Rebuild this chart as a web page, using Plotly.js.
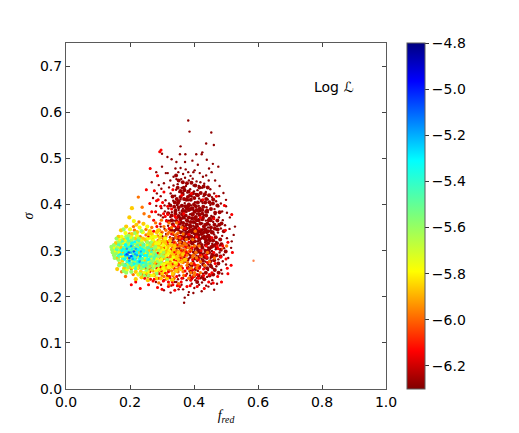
<!DOCTYPE html>
<html><head><meta charset="utf-8">
<script src="https://cdn.plot.ly/plotly-3.0.1.min.js"></script>
<style>html,body{margin:0;padding:0;background:#fff}</style></head>
<body><div id="chart" style="width:519px;height:433px"></div>
<script>
// Values: alternating fred, sigma pairs in thousandths.
const darkRed=[382,582,386,558,454,556,438,532,462,529,358,526,317,503,356,509,373,509,407,509,426,513,424,509,
330,498,372,492,395,495,412,486,440,497,459,488,476,482,455,470,342,478,351,470,358,479,366,466,374,476,382,470,389,462,402,474,418,468,428,460,438,463,447,478,300,482,282,470,318,468,336,460,345,455,360,455,372,458,384,452,396,456,408,450,420,448,432,445,446,452,466,452,480,440,268,448,290,442,306,446,322,437,
336,441,349,444,361,436,375,440,388,433,399,441,411,431,425,436,437,427,451,433,463,424,478,418,492,425,327,424,341,419,354,427,367,421,379,426,393,417,404,423,416,413,430,418,443,411,456,416,469,407,484,402,500,410,
296,418,311,409,322,402,335,408,347,399,358,411,371,403,382,409,391,398,403,405,415,397,427,403,439,394,451,399,464,390,476,396,488,385,503,382,282,397,298,392,309,385,320,391,331,383,343,389,355,382,366,391,377,384,388,379,398,388,409,380,420,386,431,377,443,383,454,375,466,379,478,372,490,366,
289,378,303,372,314,366,326,373,337,365,349,371,360,362,371,370,382,363,393,369,404,360,415,368,426,359,437,365,449,356,460,362,472,353,484,348,497,355,511,347,528,352,
296,352,308,347,319,354,330,346,341,352,352,344,363,351,374,343,385,349,396,341,407,348,418,340,429,346,440,338,452,344,463,335,475,339,488,332,503,327,518,320,
301,331,313,336,325,329,336,334,347,326,358,332,369,324,380,330,391,322,402,328,413,320,424,326,435,318,446,324,457,315,469,319,481,311,494,305,
318,312,331,318,343,311,355,316,367,309,378,314,389,306,400,312,411,304,422,310,433,302,444,307,456,299,468,303,480,296,493,291,507,284,
350,298,362,292,374,299,386,291,397,297,408,289,419,295,430,287,441,292,452,284,464,288,476,281,490,277,
372,276,385,270,397,277,409,268,421,274,433,265,445,270,458,262,470,266,485,258,
281,232,297,226,313,238,329,224,345,232,361,226,377,236,393,228,409,240,425,231,441,243,457,236,472,228,
306,214,327,209,352,216,371,198,369,187,384,210,401,219,424,212,445,222,463,215,
300,510,345,492,398,470,415,440,372,432,344,432,400,428,364,398,352,388,416,376,444,350,392,338,432,332,372,322,410,320,470,345,
342,372,356,372,375,354,398,354,412,352,426,346,340,344,348,336,364,340,380,340,402,336,416,334,352,320,364,314,392,318,402,302,
376,306,388,318,420,318,356,304,344,304,412,296,432,294,386,284,398,282,410,278,424,282,436,276,452,270,378,250,394,252,412,256,428,250,444,258,
322,258,338,250,354,246,366,240,388,246,404,236,420,240,300,246,316,246,336,238,350,238,
312,468,326,452,298,434,284,424,272,414,308,398,296,376,500,396,512,372,524,334,516,306,500,270,488,250,
348,224,366,216,382,204,398,208,416,226,438,224,454,228,340,232,326,240];
const darkRedMass=[344,463,352,452,365,448,378,446,392,447,404,441,417,437,430,439,443,437,349,436,358,429,370,431,383,428,396,424,409,421,421,425,434,422,447,420,460,411,
333,417,346,412,358,416,369,412,381,416,390,410,401,414,412,404,424,408,435,404,448,405,459,402,473,398,
326,398,338,395,350,403,362,397,373,396,384,400,395,392,406,396,418,391,429,395,441,387,453,390,466,382,480,383,
319,381,330,376,342,380,352,375,363,379,374,376,384,372,395,379,406,373,417,378,428,371,438,376,449,369,460,372,473,365,486,359,
321,363,334,357,345,364,356,358,366,360,377,357,387,355,398,362,409,356,420,359,431,352,442,358,453,350,465,348,479,356,493,342,
327,345,336,342,346,347,358,340,369,345,379,338,390,344,400,338,411,343,423,336,434,341,445,333,456,339,468,329,482,324,
334,325,344,329,355,324,364,330,375,327,385,332,396,326,406,331,417,324,428,329,438,322,449,328,460,322,472,316,486,314,
340,315,351,308,361,318,372,315,383,310,394,316,404,308,415,314,426,306,437,312,448,304,459,310,471,307,484,302,499,298,
355,296,366,300,379,295,391,302,402,295,413,301,424,292,436,299,447,296,458,292,470,290,483,287,
368,284,380,280,392,287,404,283,416,286,428,278,440,284,451,277,463,279,476,272,
381,263,393,268,405,260,417,265,429,270,441,262,453,266,465,258,477,252,
389,255,400,245,414,246,426,243,437,252,449,246,460,248,392,240,410,232,432,238,
352,407,364,424,376,410,388,420,400,400,412,420,426,388,438,412,368,436,382,396,394,370,408,388,
340,404,330,366,352,360,366,372,378,366,390,362,402,370,414,366,426,368,436,346,446,366,356,330,368,330,382,326,392,330,
352,350,366,352,376,348,390,352,404,350,416,342,428,338,440,330,358,368,372,386,384,388,396,378,408,366,
342,386,352,394,364,386,378,392,390,390,402,384,414,386,426,380,438,384,452,366,464,356,474,346,
402,320,414,328,424,312,434,326,444,316,454,308,466,312,408,306,420,298,432,286,444,300,456,288,
458,340,450,322,436,356,444,342,422,344,410,336,398,346,386,342,372,336];
const red=[297,518,293,514,263,478,286,462,251,432,276,430,262,402,283,408,
306,427,334,432,362,420,392,424,428,410,470,418,495,398,518,378,305,380,340,375,368,380,420,372,462,369,498,344,
274,366,294,358,322,348,350,352,384,335,416,348,456,328,506,318,298,338,318,318,338,318,362,326,384,318,408,330,438,310,472,310,
292,320,308,306,328,302,344,290,358,284,372,290,388,298,404,268,422,300,440,286,462,296,484,286,520,296,
270,300,288,294,302,282,316,286,326,276,338,280,352,270,364,262,380,262,396,258,416,262,436,290,456,252,474,244,504,262,
248,262,262,254,276,246,290,240,304,234,318,244,332,232,346,244,360,232,374,246,390,236,410,248,430,260,446,232,
204,226,218,232,232,218,246,240,258,226,272,234,286,220,300,216,320,232,340,214,356,222,388,224,410,222,432,218,486,232,506,250,
258,330,274,342,284,352,268,384,314,364,330,336,352,330,374,308,394,306,414,280,338,296,360,300,396,280,350,268,372,256,338,262,
282,272,296,264,312,268,310,252,324,244,298,256,284,262,268,262,250,248,264,238,
280,384,296,396,310,374,288,410,302,404,318,396,330,390,344,372,318,378,336,354,352,362,372,348,348,312,376,296,358,278,344,278,
332,270,320,254,306,236,292,250,276,238,262,246,320,222,334,226,348,224,362,240,378,222,396,242,414,240,430,246,448,248,460,230,
400,272,420,290,442,274,466,272,500,282,516,268,476,304,490,310];
const orange=[226,416,244,380,238,394,260,374,280,360,298,366,322,360,346,360,
211,352,228,362,250,346,268,350,292,344,312,344,334,338,362,350,404,342,
198,336,214,344,232,330,250,334,270,326,286,332,304,326,324,322,344,328,364,310,396,324,
206,318,224,322,242,314,260,316,278,310,296,316,314,300,332,308,350,310,368,296,390,300,416,310,
186,244,204,302,220,298,238,304,254,296,272,302,290,300,306,292,324,296,340,302,356,290,376,282,398,290,422,288,
218,284,236,278,252,284,268,276,284,284,300,274,318,282,334,284,348,276,366,274,384,260,410,262,442,296,
226,262,240,268,258,260,274,270,288,252,306,260,322,262,336,272,350,254,366,254,392,262,502,310,
240,248,256,244,272,256,290,230,306,244,322,226,338,240,352,228,204,260,188,270,174,254,210,248,
282,316,316,312,300,340,330,350,340,318,356,318,376,324,382,306,362,286,344,268,330,256,314,250,400,246,
322,340,336,312,312,330,350,338,366,336,378,290,392,272,406,296,360,266,378,268,328,290,304,308,288,322,
348,300,326,286,310,272,296,284,280,294,266,312,252,320,358,310,372,302,
306,352,318,336,328,326,342,334,356,328,370,316,384,298,396,286,402,310,412,268,344,296,358,296,338,280,352,284,366,280,380,274,390,252,
300,320,314,320,330,300,344,312,360,302,376,312,392,308,408,284,420,276,434,268,448,276,464,284,
296,300,310,284,326,268,340,258,354,262,368,246,384,240,402,252,420,252,292,270,306,268,320,258,334,246,348,260];
const amber=[206,392,198,372,220,356,242,358,262,342,284,340,
172,344,188,352,206,336,222,340,240,326,258,336,276,318,294,328,310,316,
164,330,180,324,198,318,216,326,232,312,248,324,266,306,282,302,298,306,318,308,336,302,
156,316,172,306,190,304,208,308,226,296,244,292,260,300,276,290,292,292,308,284,326,274,344,282,
160,284,176,278,194,284,212,274,230,268,246,278,262,268,280,274,296,258,312,262,328,268,344,256,
182,262,200,264,218,254,234,254,252,250,268,258,284,240,300,250,316,240,334,250,
236,242,256,236,276,248,218,238,296,240,178,296,168,296,322,296,338,290,312,296,324,320,306,296,
290,310,272,314,256,306,304,320,288,344,268,336,352,280,358,260,332,236,160,260,168,272,
300,290,316,304,332,294,346,288,360,276,372,280,328,312,340,310,352,296,366,292,318,272,334,264,346,270,302,264];
const yellow=[212,364,230,350,254,352,274,330,
186,338,204,328,222,332,240,340,256,326,272,322,290,316,
168,322,186,322,202,316,220,318,236,306,254,312,272,298,288,306,304,302,
162,308,178,316,196,296,212,290,230,306,248,284,264,292,282,282,298,272,314,288,
166,296,180,286,194,272,210,264,228,286,244,262,260,276,276,266,292,278,308,270,
190,258,206,270,222,262,240,276,258,254,274,246,288,260,304,262,
226,248,246,252,264,246,282,256,300,282,316,276,296,298,280,316,264,328,236,322,
170,288,154,298,150,306,174,330,200,346,250,294,266,284,238,296,216,316,202,306,
320,294,330,280,342,274,312,306,324,300,336,286,304,312,292,320,280,330,296,336,310,326,308,256,322,264];
const green=[180,346,196,332,216,338,236,342,
158,326,172,314,188,330,204,322,220,308,238,316,254,318,
150,312,164,318,180,306,196,312,212,302,228,316,244,306,262,312,276,304,
144,302,156,294,170,300,186,296,200,280,216,276,232,300,248,300,264,276,280,266,
150,290,164,280,178,270,194,264,210,278,226,276,242,270,256,264,272,278,288,268,
188,252,204,254,220,268,236,262,252,258,268,270,284,250,232,250,246,246,
146,296,152,284,142,308,160,306,176,322,192,318,210,326,228,326,260,290,272,290,
166,268,180,256,288,288,298,290,258,246,
276,296,290,300,304,286,316,280,286,276,270,262,258,270,296,274,280,308,268,318,306,296];
const mint=[176,320,192,326,208,314,226,322,242,312,
164,312,178,300,192,306,208,296,224,312,240,296,256,306,
158,302,172,292,186,286,200,300,216,286,232,290,248,274,264,286,
164,288,178,282,192,276,206,268,222,272,238,282,252,282,
184,268,200,272,218,262,234,270,250,268,212,306,196,320,254,296,268,298,
262,272,276,284,266,304,280,290,244,264];
const cyan=[186,312,200,308,216,318,232,306,
174,300,190,298,206,304,222,296,238,304,
170,292,184,294,198,286,214,280,230,284,246,290,
182,282,196,274,210,288,226,276,240,274,
212,272,204,316,226,302,236,292,178,304,244,300,252,290,258,280];
const azure=[190,304,202,296,218,304,234,298,194,290,208,282,222,290,186,290,198,278,216,292,232,288,230,276,204,310];
const blue=[196,296,204,288,190,292,212,298,198,284];
const paleOrange=[586,278,488,304];
// Log-likelihood level of each colour group, in the same order.
const groups=[darkRed,darkRedMass,red,orange,amber,yellow,green,mint,cyan,azure,blue,paleOrange];
const levels=[-6.28,-6.26,-6.14,-5.98,-5.86,-5.77,-5.6,-5.45,-5.32,-5.2,-5.08,-6.03];
const xTicks=[0,0.2,0.4,0.6,0.8,1];
const xTickLabels=['0.0','0.2','0.4','0.6','0.8','1.0'];
const yTicks=[0,0.1,0.2,0.3,0.4,0.5,0.6,0.7];
const yTickLabels=['0.0','0.1','0.2','0.3','0.4','0.5','0.6','0.7'];
const barTicks=[-4.8,-5,-5.2,-5.4,-5.6,-5.8,-6,-6.2];
const barLabels=['−4.8','−5.0','−5.2','−5.4','−5.6','−5.8','−6.0','−6.2'];

const font='"DejaVu Sans",sans-serif';
const edge='#5a5a5a';
const traces=[];
function addGroup(i,size,opacity){
  const p=groups[i],x=[],y=[];
  for(let k=0;k+1<p.length;k+=2){x.push(p[k]/1000);y.push(p[k+1]/1000);}
  traces.push({type:'scatter',mode:'markers',x,y,hoverinfo:'skip',showlegend:false,
    marker:{size,opacity,color:x.map(()=>levels[i]),coloraxis:'coloraxis',line:{width:0}}});
}
// broad underlay of the dense body, then the fine grain on top
addGroup(1,4,1);
addGroup(0,2.4,1);
addGroup(2,3,1);
addGroup(3,3.4,1);
[4,5,6,7,8].forEach(i=>addGroup(i,4.2,1));
addGroup(2,2.2,1);
[4,5,6,7,8,9,10].forEach(i=>addGroup(i,2.6,1));
addGroup(11,2.4,0.7);

const layout={
  width:519,height:433,paper_bgcolor:'#fff',plot_bgcolor:'#fff',showlegend:false,
  margin:{l:65.5,r:133,t:43,b:44,pad:0},
  font:{family:font,size:14,color:'#000'},
  xaxis:{range:[0,1],tickvals:xTicks,ticktext:xTickLabels,ticks:'inside',ticklen:4,tickwidth:1,tickcolor:'#444',
    showline:true,linecolor:edge,linewidth:1,mirror:'allticks',showgrid:false,zeroline:false,
    tickfont:{family:font,size:14},title:{text:'<i>f<sub>red</sub></i>',standoff:1,font:{family:'"Liberation Serif",serif',size:14}}},
  yaxis:{range:[0,0.75],tickvals:yTicks,ticktext:yTickLabels,ticks:'inside',ticklen:4,tickwidth:1,tickcolor:'#444',
    showline:true,linecolor:edge,linewidth:1,mirror:'allticks',showgrid:false,zeroline:false,
    tickfont:{family:font,size:14},title:{text:'<i>σ</i>',standoff:3,font:{family:'"Liberation Serif",serif',size:14}}},
  coloraxis:{cmin:-6.3,cmax:-4.8,
    colorscale:[[0,'#800000'],[0.11,'#ff0000'],[0.34,'#ffff00'],[0.5,'#7dff7a'],[0.66,'#00ffff'],[0.89,'#0000ff'],[1,'#000080']],
    colorbar:{x:1.0645,xanchor:'left',y:0.5,yanchor:'middle',len:1,lenmode:'fraction',thickness:18,thicknessmode:'pixels',
      xpad:0,ypad:0,outlinecolor:edge,outlinewidth:1,borderwidth:0,
      tickvals:barTicks,ticktext:barLabels,ticks:'outside',ticklen:4,tickcolor:'#333',tickfont:{family:font,size:14}}},
  annotations:[{x:0.769,y:0.655,xref:'x',yref:'y',xanchor:'left',yanchor:'middle',showarrow:false,text:'Log ℒ',font:{family:font,size:14}}]
};
Plotly.newPlot('chart',traces,layout,{displayModeBar:false,staticPlot:true});
</script></body></html>
